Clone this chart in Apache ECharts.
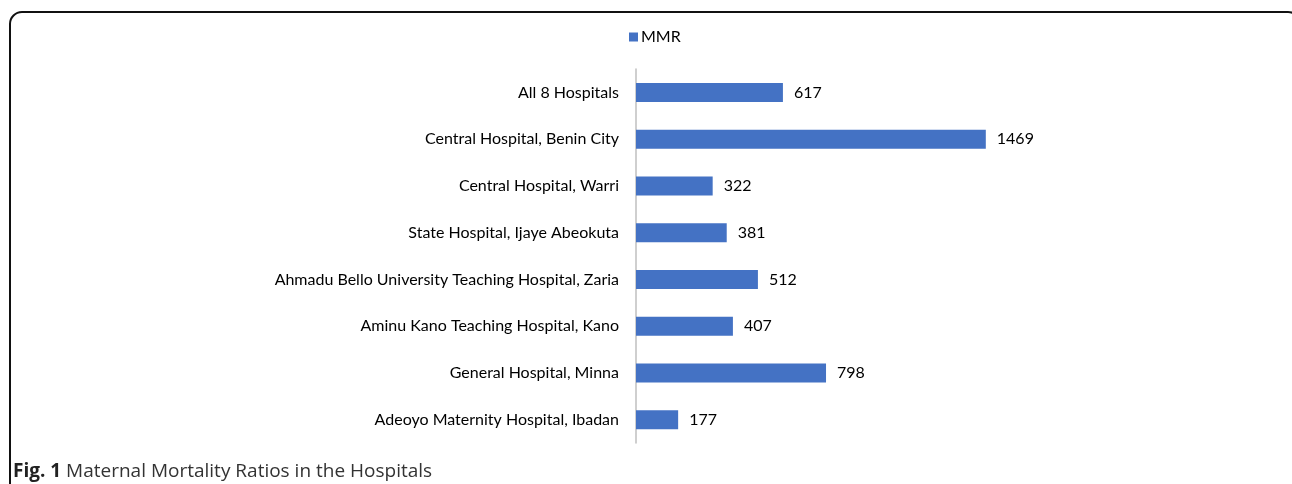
<!DOCTYPE html>
<html>
<head>
<meta charset="utf-8">
<script src="https://cdn.jsdelivr.net/npm/echarts@6/dist/echarts.min.js"></script>
<style>
  html, body { margin: 0; padding: 0; background: #fff; }
  #chart { width: 1292px; height: 484px; }
</style>
</head>
<body>
<div id="chart"></div>
<script>
// hospitals, listed bottom to top as the category axis draws them
const hospitals = [
  'Adeoyo Maternity Hospital, Ibadan',
  'General Hospital, Minna',
  'Aminu Kano Teaching Hospital, Kano',
  'Ahmadu Bello University Teaching Hospital, Zaria',
  'State Hospital, Ijaye Abeokuta',
  'Central Hospital, Warri',
  'Central Hospital, Benin City',
  'All 8 Hospitals'
]
const mmr = [177, 798, 407, 512, 381, 322, 1469, 617]

const chart = echarts.init(document.getElementById('chart'))

const FONT = 'Lato, "Open Sans", sans-serif'
const CAPTION_FONT = '"Open Sans", sans-serif'

chart.setOption({
  animation: false,
  legend: {
    top: 24,
    left: 624,
    icon: 'rect',
    itemWidth: 9,
    itemHeight: 9,
    itemGap: 4,
    textStyle: { fontFamily: FONT, fontSize: 16, color: '#000', padding: [0, 0, 0, -2] },
    data: ['MMR'],
  },
  grid: {
    left: 636,
    top: 69,
    width: 381,
    height: 374,
    containLabel: false,
  },
  xAxis: {
    type: 'value',
    min: 0,
    max: 1600,
    show: false,
  },
  yAxis: {
    type: 'category',
    data: hospitals,
    axisLine: { lineStyle: { color: '#bfbfbf', width: 1.5 } },
    axisTick: { show: false },
    axisLabel: {
      margin: 17,
      fontFamily: FONT,
      fontSize: 16,
      color: '#000',
    },
  },
  series: [
    {
      name: 'MMR',
      type: 'bar',
      data: mmr,
      barWidth: 19,
      itemStyle: { color: '#4472c4' },
      label: {
        show: true,
        position: 'right',
        distance: 11,
        fontFamily: FONT,
        fontSize: 16,
        color: '#000',
      },
    },
  ],
  graphic: [
    {
      type: 'rect',
      shape: { x: 10, y: 12, width: 1290, height: 520, r: 12 },
      style: { fill: 'none', stroke: '#111', lineWidth: 2 },
    },
    {
      type: 'text',
      left: 13,
      top: 462,
      style: {
        text: '{b|Fig. 1} Maternal Mortality Ratios in the Hospitals',
        fontFamily: CAPTION_FONT,
        fontSize: 19,
        fill: '#333',
        rich: {
          b: { fontFamily: CAPTION_FONT, fontSize: 19, fontWeight: 'bold', fill: '#222' },
        },
      },
    },
  ],
})
</script>
</body>
</html>
